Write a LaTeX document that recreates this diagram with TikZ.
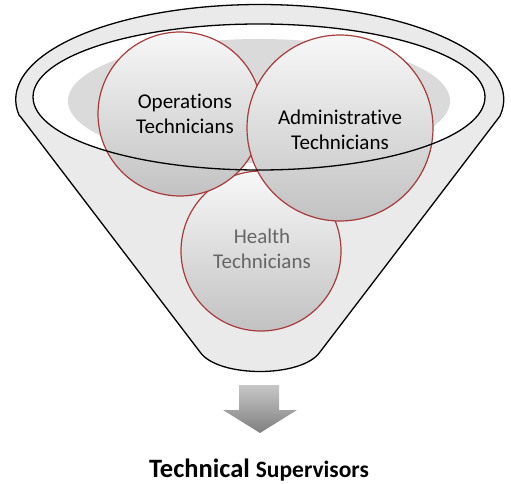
\documentclass[tikz,border=0pt]{standalone}
\usepackage{fontspec}
\setmainfont{Carlito}[Ligatures=NoCommon]
\definecolor{rimgray}{HTML}{EAEAEA}
\definecolor{shadowgray}{HTML}{DADADA}
\definecolor{ringred}{HTML}{A83A3A}
\definecolor{healthtext}{HTML}{666666}
\tikzset{
  bubble/.style={circle, draw=ringred, line width=1.2pt, top color=white!97!black, bottom color=black!24, inner sep=0pt},
  bubbletext/.style={align=center, font=\fontsize{21}{24.5}\selectfont, inner sep=0pt},
  funnelline/.style={draw=black, line width=1.3pt},
}
\begin{document}
\begin{tikzpicture}[x=1pt,y=-1pt]
\useasboundingbox (0,0) rectangle (511,484);
% funnel body
\path[funnelline, fill=rimgray, line join=round]
  (20,116) -- (200,352) .. controls (218,378) and (302,378) .. (320,352) -- (500,116)
  arc[start angle=10, end angle=-190, x radius=244, y radius=95] -- cycle;
% inner mouth
\fill[white] (259,97) ellipse[x radius=226, y radius=73];
\fill[shadowgray] (259,101) ellipse[x radius=191, y radius=62];
% circles
\node[bubble, minimum size=160pt] (health) at (261,251) {};
\node[bubble, minimum size=164pt] (ops) at (180,114) {};
\node[bubble, minimum size=186pt] (admin) at (340,128) {};
% mouth outline on top
\draw[funnelline] (259,97) ellipse[x radius=226, y radius=73];
% texts
\node[bubbletext] (opst) at (185,114) {Operations\\Technicians};
\node[bubbletext] (admint) at (340,130) {Administrative\\Technicians};
\node[bubbletext, text=healthtext] (healtht) at (262,249) {Health\\Technicians};
% arrow
\shade[top color=black!22, bottom color=black!50]
  (239,385) -- (279,385) -- (279,410) -- (297,410) -- (260,433) -- (223,410) -- (239,410) -- cycle;
% label
\node[anchor=base, inner sep=0pt, font=\bfseries] (sup) at (259,477)
  {\fontsize{26.5}{30}\selectfont Technical \fontsize{23.5}{28}\selectfont Supervisors};
\end{tikzpicture}
\end{document}
